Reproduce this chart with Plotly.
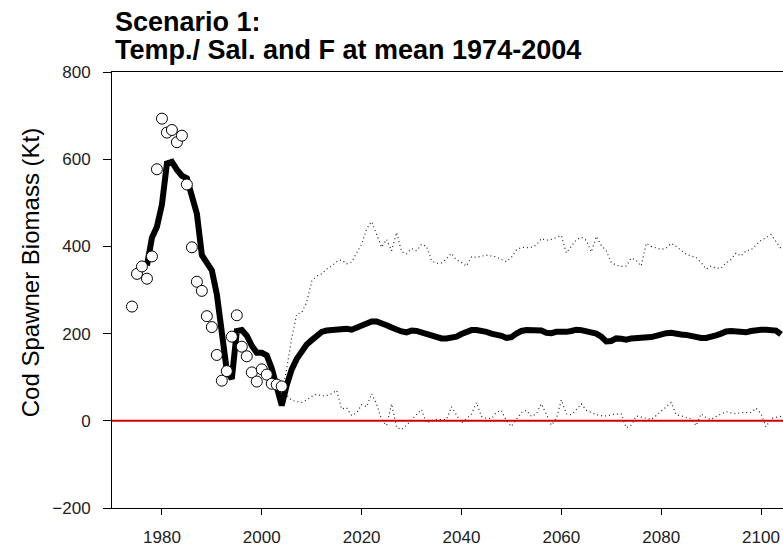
import plotly.graph_objects as go

# Observed spawning stock biomass (Kt), 1974-2004
obs_years = list(range(1974, 2005))
obs_ssb = [262, 337, 354, 326, 377, 577, 693, 661, 667, 639, 654, 542, 398, 319,
           298, 240, 215, 151, 92, 114, 193, 242, 170, 148, 111, 90, 118, 106,
           85, 83, 79]

# Median model trajectory (Kt), 1977-2104
med_years = list(range(1977, 2105))
med_ssb = [356, 420, 445, 496, 590, 594, 576, 562, 556, 515, 475, 380, 364, 345,
           290, 200, 115, 96, 206, 208, 195, 172, 156, 156, 150, 120, 80, 35,
           82, 118, 142, 160, 175, 185, 193, 204, 207, 208, 209, 211, 211, 209,
           213, 218, 224, 228, 228, 225, 219, 214, 209, 205, 203, 207, 206, 203,
           198, 195, 191, 189, 189, 191, 193, 199, 203, 208, 208, 207, 204, 200,
           198, 195, 190, 192, 200, 206, 208, 207, 209, 207, 202, 201, 204, 203,
           204, 206, 209, 208, 205, 202, 200, 193, 182, 183, 189, 188, 186, 189,
           189, 189, 190, 192, 195, 199, 201, 202, 199, 198, 197, 194, 190, 190,
           190, 192, 196, 200, 205, 206, 205, 204, 203, 206, 209, 209, 209, 208,
           207, 198]

# Projection bounds (Kt), 2004-2104
band_years = list(range(2004, 2105))
upper_ssb = [60, 120, 190, 245, 248, 272, 320, 332, 337, 348, 355, 365, 369, 360,
             364, 385, 405, 440, 457, 428, 398, 416, 390, 432, 388, 383, 395, 390,
             405, 400, 367, 361, 362, 372, 384, 369, 363, 355, 376, 375, 377, 380,
             378, 376, 370, 365, 375, 392, 398, 397, 398, 403, 418, 414, 416, 420,
             425, 385, 400, 415, 421, 414, 387, 423, 402, 390, 363, 357, 354, 355,
             373, 368, 355, 407, 400, 396, 393, 396, 407, 400, 390, 382, 378, 375,
             363, 348, 355, 350, 350, 362, 370, 385, 378, 390, 392, 402, 414, 420,
             427, 411, 395]
lower_ssb = [70, 58, 47, 44, 42, 48, 56, 61, 57, 58, 62, 70, 27, 30, 12, 18, 37,
             32, 62, 38, 3, -11, 39, -15, -20, -10, 2, 14, 26, -5, 0, 3, 3, 3, 32,
             14, -5, 5, 15, 42, 10, 6, 5, 19, 24, 0, -13, 3, 19, 24, 10, 16, 39,
             15, -10, 5, 48, 16, 14, 26, 39, 24, 19, 14, 12, 11, 14, 15, 16, -16,
             -10, 11, 8, 5, 3, 12, 22, 34, 42, 14, 11, 8, 5, -11, 16, 7, 3, 10, 16,
             21, 18, 16, 19, 19, 19, 29, 16, -14, 5, 8, 10]

y_ticks = [-200, 0, 200, 400, 600, 800]
x_ticks = [1980, 2000, 2020, 2040, 2060, 2080, 2100]

FONT = "Arial, Liberation Sans, sans-serif"

fig = go.Figure()

dot_style = dict(color="#222222", width=1.2, dash="1px,3px")
fig.add_trace(go.Scatter(x=band_years, y=upper_ssb, mode="lines",
                         line=dot_style, hoverinfo="skip"))
fig.add_trace(go.Scatter(x=band_years, y=lower_ssb, mode="lines",
                         line=dot_style, hoverinfo="skip"))

fig.add_hline(y=0, line=dict(color="#d00000", width=2), layer="above")

fig.add_trace(go.Scatter(x=med_years, y=med_ssb, mode="lines",
                         line=dict(color="black", width=6)))
fig.add_trace(go.Scatter(x=obs_years, y=obs_ssb, mode="markers",
                         marker=dict(symbol="circle", size=11, color="white",
                                     line=dict(color="black", width=1))))

fig.update_layout(
    width=783, height=547,
    margin=dict(l=112, r=0, t=72, b=33),
    paper_bgcolor="white", plot_bgcolor="white",
    showlegend=False,
    font=dict(family=FONT, color="black"),
    xaxis=dict(range=[1970, 2104.4], tickvals=x_ticks, ticks="outside",
               ticklen=6, tickwidth=1, tickcolor="black", showline=True,
               linecolor="black", linewidth=1, mirror=True, showgrid=False,
               zeroline=False, tickfont=dict(size=17, color="#222222"),
               ticklabelstandoff=8),
    yaxis=dict(range=[-200, 800], tickvals=y_ticks, ticks="outside",
               ticklen=8, tickwidth=1, tickcolor="black", showline=True,
               linecolor="black", linewidth=1, showgrid=False, zeroline=False,
               tickfont=dict(size=17, color="#222222"), ticklabelstandoff=9),
)

# Two-line bold heading and vertical axis label
fig.add_annotation(text="<b>Scenario 1:</b>", xref="paper", yref="paper",
                   x=(113 - 112) / 671, y=(514 - 21) / 442, xanchor="left",
                   yanchor="middle", showarrow=False,
                   font=dict(size=27, family=FONT, color="black"))
fig.add_annotation(text="<b>Temp./ Sal. and F at mean 1974-2004</b>",
                   xref="paper", yref="paper",
                   x=(113 - 112) / 671, y=(514 - 50) / 442, xanchor="left",
                   yanchor="middle", showarrow=False,
                   font=dict(size=27, family=FONT, color="black"))
fig.add_annotation(text="Cod Spawner Biomass (Kt)", xref="paper", yref="paper",
                   x=(30 - 112) / 671, y=(514 - 276) / 442, xanchor="center",
                   yanchor="middle", textangle=-90, showarrow=False,
                   font=dict(size=24, family=FONT, color="black"))

fig.write_html("out.html")
